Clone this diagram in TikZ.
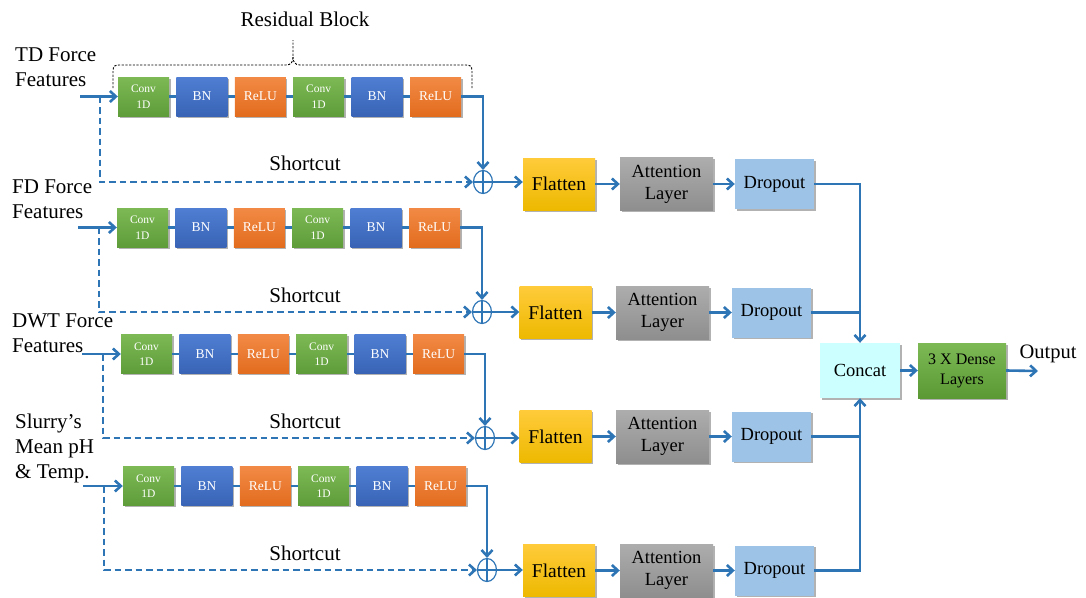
\documentclass[tikz,border=0pt]{standalone}
\usepackage{fontspec}
\setmainfont{Liberation Serif}
\usetikzlibrary{arrows.meta,shapes.geometric,shadows,calc}

\definecolor{linkblue}{HTML}{2E75B6}
\definecolor{convT}{HTML}{7DBA55}
\definecolor{convB}{HTML}{5E9C3A}
\definecolor{bnT}{HTML}{4F7ED2}
\definecolor{bnB}{HTML}{3964B6}
\definecolor{reluT}{HTML}{F28A45}
\definecolor{reluB}{HTML}{E26C1E}
\definecolor{flatT}{HTML}{FFCB3A}
\definecolor{flatB}{HTML}{EDB900}
\definecolor{attT}{HTML}{ADADAD}
\definecolor{attB}{HTML}{8E8E8E}
\definecolor{dropC}{HTML}{9DC3E6}
\definecolor{catC}{HTML}{CCFFFF}
\definecolor{denseT}{HTML}{7DBA55}
\definecolor{denseB}{HTML}{5A9934}

\begin{document}
\begin{tikzpicture}[x=1pt,y=-1pt,
  shade/.style={drop shadow={shadow xshift=1.5pt,shadow yshift=-1.5pt,opacity=0.3,fill=black}},
  blk/.style={shade,minimum width=51pt,minimum height=39pt,inner sep=0pt,
    text=white,align=center,font=\fontsize{13.5}{15}\selectfont},
  conv/.style={blk,top color=convT,bottom color=convB,font=\fontsize{11.5}{15.5}\selectfont},
  bnorm/.style={blk,top color=bnT,bottom color=bnB},
  relu/.style={blk,top color=reluT,bottom color=reluB},
  big/.style={shade,inner sep=0pt,align=center,font=\fontsize{18.5}{22}\selectfont},
  flat/.style={big,minimum width=72pt,minimum height=52pt,top color=flatT,bottom color=flatB,font=\fontsize{19.5}{22}\selectfont},
  att/.style={big,minimum width=93pt,minimum height=53pt,top color=attT,bottom color=attB},
  drop/.style={big,minimum width=79pt,minimum height=50pt,fill=dropC},
  sumnode/.style={ellipse,draw=linkblue,line width=1.2pt,minimum width=19pt,minimum height=23pt,inner sep=0pt},
  link/.style={draw=linkblue,line width=2.6pt},
  arr/.style={link,-{Straight Barb[length=6pt,width=11pt]}},
  shortline/.style={arr,dash pattern=on 6.5pt off 4pt},
  lbl/.style={inner sep=0pt,font=\fontsize{21}{25}\selectfont,align=left},
  brace/.style={draw=black,line width=0.9pt,dash pattern=on 2.2pt off 1.5pt}
]
\useasboundingbox (0,0) rectangle (1086,597);

% title and brace over the first residual block
\node[lbl,anchor=base] (rb) at (305,27) {Residual Block};
\draw[brace] (113,88) -- (113,71) .. controls (113,66) and (115,65) .. (119,65)
  -- (286,65) .. controls (291,65) and (293,62) .. (293,57) -- (293,40);
\draw[brace] (472,88) -- (472,71) .. controls (472,66) and (470,65) .. (466,65)
  -- (300,65) .. controls (295,65) and (293,62) .. (293,57);

% input labels (anchored at the baseline of their last line)
\node[lbl,anchor=base west] (l1) at (15,86) {TD Force\\Features};
\node[lbl,anchor=base west] (l2) at (12,218) {FD Force\\Features};
\node[lbl,anchor=base west] (l3) at (12,352) {DWT Force\\Features};
\node[lbl,anchor=base west] (l4) at (15,478) {Slurry’s\\Mean pH\\\& Temp.};

% four branches: residual block, shortcut, sum, flatten, attention, dropout
\foreach \r/\yb/\xs/\xin/\xd/\cx/\cy/\fx/\ax/\dx/\fy/\sy in {
  1/96.5/118/80/100/483/182/559/666.5/774.5/184/170,
  2/227.5/117/78/99/482/312/555.5/662.5/771.5/312.5/302,
  3/354/121/82/103/485/438/555.5/662.5/771.5/436.5/428,
  4/486/123/83/104/487/570/559/666.5/774.5/570.5/560}
{
  \node[conv]  (a\r) at (\xs+25.5,\yb) {Conv\\1D};
  \node[bnorm] (b\r) at (\xs+83.9,\yb) {BN};
  \node[relu]  (c\r) at (\xs+142.3,\yb) {ReLU};
  \node[conv]  (d\r) at (\xs+200.7,\yb) {Conv\\1D};
  \node[bnorm] (e\r) at (\xs+259.1,\yb) {BN};
  \node[relu]  (f\r) at (\xs+317.5,\yb) {ReLU};
  \draw[link] (a\r) -- (b\r);
  \draw[link] (b\r) -- (c\r);
  \draw[link] (c\r) -- (d\r);
  \draw[link] (d\r) -- (e\r);
  \draw[link] (e\r) -- (f\r);

  \coordinate (in\r) at (\xin,\yb);
  \coordinate (sp\r) at (\xd,\yb);
  \draw[arr] (in\r) -- (a\r.west);

  \node[sumnode] (s\r) at (\cx,\cy) {};
  \draw[linkblue,line width=1.2pt] (s\r.north) -- (s\r.south) (s\r.west) -- (s\r.east);
  \draw[shortline] (sp\r) |- (s\r.west);
  \draw[arr] (f\r.east) -| (s\r.north);
  \node[lbl,anchor=base] (sc\r) at (305,\sy) {Shortcut};

  \node[flat] (g\r) at (\fx,\fy) {Flatten};
  \node[att]  (h\r) at (\ax,\fy) {Attention\\Layer};
  \node[drop] (k\r) at (\dx,\fy) {Dropout};
  \draw[arr] (s\r.east) -- (s\r.east -| g\r.west);
  \draw[arr] (g\r) -- (h\r);
  \draw[arr] (h\r) -- (k\r);
}

% merge, dense head and output
\node[big,minimum width=80pt,minimum height=55pt,fill=catC,font=\fontsize{18.5}{21}\selectfont] (cat) at (860,370.5) {Concat};
\node[big,minimum width=88pt,minimum height=55pt,top color=denseT,bottom color=denseB,
  font=\fontsize{16}{20}\selectfont,text=black] (dense) at (962,370.5) {3 X Dense\\Layers};
\draw[arr] (k1.east) -| (cat.north);
\draw[link] (k2.east) -- (k2.east -| cat.north);
\draw[link] (k3.east) -- (k3.east -| cat.south);
\draw[arr] (k4.east) -| (cat.south);
\draw[arr] (cat) -- (dense);
\coordinate (out) at (1038,371);
\draw[arr] (dense.east) -- (out);
\node[lbl,anchor=base,font=\fontsize{20.5}{24}\selectfont] (outl) at (1048,358) {Output};
\end{tikzpicture}
\end{document}
